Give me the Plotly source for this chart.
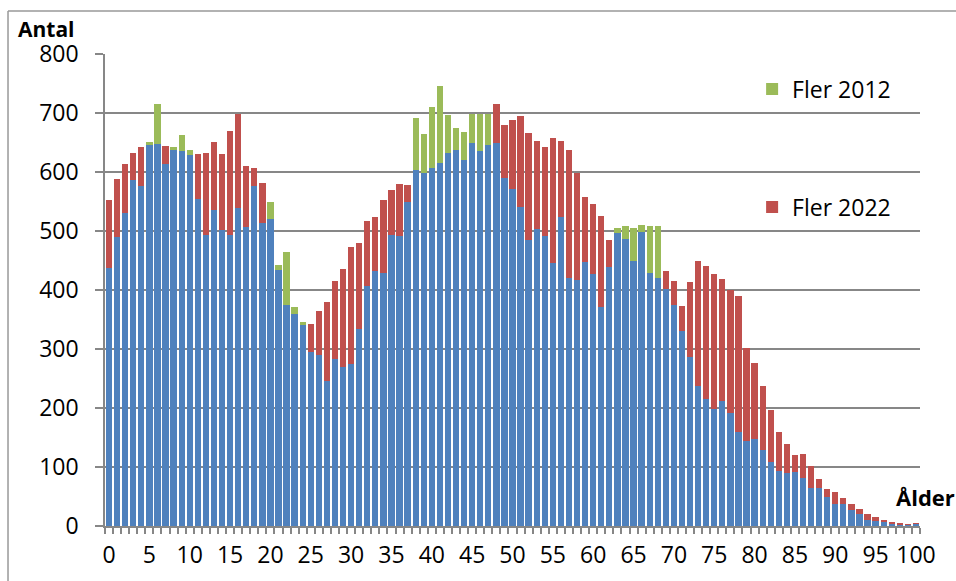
import plotly.graph_objects as go

ages = list(range(0, 101))

pop_2012 = [438, 490, 530, 586, 577, 651, 715, 614, 642, 662,
            637, 554, 494, 536, 502, 494, 539, 507, 577, 513,
            550, 443, 464, 371, 346, 295, 289, 246, 283, 270,
            275, 334, 407, 433, 428, 494, 492, 550, 692, 665,
            711, 746, 697, 674, 667, 699, 698, 698, 650, 590,
            572, 541, 485, 503, 492, 445, 524, 420, 417, 447,
            427, 371, 439, 505, 509, 505, 511, 508, 509, 401,
            374, 331, 286, 238, 215, 198, 212, 191, 159, 144,
            147, 128, 108, 93, 89, 92, 81, 65, 65, 50,
            38, 38, 27, 21, 10, 8, 7, 3, 2, 2, 4]

pop_2022 = [552, 588, 614, 633, 642, 646, 647, 644, 637, 635,
            629, 631, 632, 651, 630, 669, 699, 611, 607, 582,
            521, 434, 375, 360, 341, 342, 365, 380, 416, 436,
            473, 479, 517, 524, 553, 569, 580, 578, 603, 599,
            607, 616, 633, 638, 621, 650, 636, 645, 715, 679,
            688, 695, 666, 653, 643, 658, 652, 638, 598, 558,
            545, 525, 485, 497, 487, 450, 499, 428, 421, 433,
            415, 373, 414, 449, 440, 427, 419, 400, 390, 301,
            276, 237, 197, 159, 139, 121, 122, 101, 79, 62,
            58, 47, 38, 28, 20, 16, 11, 7, 4, 3, 5]

x_ticks = list(range(0, 101, 5))
y_ticks = list(range(0, 801, 100))

common = [min(a, b) for a, b in zip(pop_2012, pop_2022)]
more_2012 = [max(a - b, 0) for a, b in zip(pop_2012, pop_2022)]
more_2022 = [max(b - a, 0) for a, b in zip(pop_2012, pop_2022)]

BLUE = "#4F81BD"
GREEN = "#9BBB59"
RED = "#C0504D"
GRID = "#878787"
FONT = "Open Sans"

fig = go.Figure()
fig.add_trace(go.Bar(x=ages, y=common, marker=dict(color=BLUE, line=dict(width=0)),
                     showlegend=False, name="Båda"))
fig.add_trace(go.Bar(x=ages, y=more_2012, marker=dict(color=GREEN, line=dict(width=0)),
                     name="Fler 2012", legend="legend"))
fig.add_trace(go.Bar(x=ages, y=more_2022, marker=dict(color=RED, line=dict(width=0)),
                     name="Fler 2022", legend="legend2"))

fig.update_layout(
    width=956, height=581,
    margin=dict(l=105, r=36, t=54, b=55),
    paper_bgcolor="white", plot_bgcolor="white",
    barmode="stack", bargap=0.22,
    font=dict(family=FONT, size=23, color="black"),
    legend=dict(x=0.794, y=0.926, xanchor="left", yanchor="middle",
                bgcolor="rgba(0,0,0,0)", font=dict(size=23)),
    legend2=dict(x=0.794, y=0.676, xanchor="left", yanchor="middle",
                 bgcolor="rgba(0,0,0,0)", font=dict(size=23)),
    xaxis=dict(
        range=[-0.5, 100.5], tickvals=x_ticks, ticktext=[str(v) for v in x_ticks],
        ticks="outside", ticklen=8, tickcolor="rgba(0,0,0,0)",
        showline=True, linecolor=GRID, linewidth=1.5, showgrid=False, zeroline=False,
        minor=dict(ticks="outside", tick0=-0.5, dtick=1, ticklen=6,
                   tickcolor=GRID, tickwidth=1.5, showgrid=False),
        tickfont=dict(size=23),
    ),
    yaxis=dict(
        range=[0, 800], tickvals=y_ticks,
        ticks="outside", ticklen=8, tickcolor=GRID, tickwidth=1.5,
        ticklabelstandoff=12,
        showline=True, linecolor=GRID, linewidth=1.5,
        showgrid=True, gridcolor=GRID, gridwidth=1.5, zeroline=False,
        tickfont=dict(size=23),
    ),
    annotations=[
        dict(text="<b>Antal</b>", x=-0.072, y=1.054, xref="paper", yref="paper",
             showarrow=False, xanchor="center", yanchor="middle", font=dict(size=21)),
        dict(text="<b>Ålder</b>", x=0.968, y=0.062, xref="paper", yref="paper",
             showarrow=False, xanchor="left", yanchor="middle", font=dict(size=22)),
    ],
    shapes=[
        dict(type="line", xref="paper", yref="paper", x0=-0.119, x1=1.1,
             y0=1.091, y1=1.091, line=dict(color="#999999", width=1.5)),
        dict(type="line", xref="paper", yref="paper", x0=-0.119, x1=-0.119,
             y0=1.091, y1=-0.2, line=dict(color="#999999", width=1.5)),
    ],
)

fig.write_html("out.html", config={"displayModeBar": False},
               post_script="document.body.style.margin='0';")
